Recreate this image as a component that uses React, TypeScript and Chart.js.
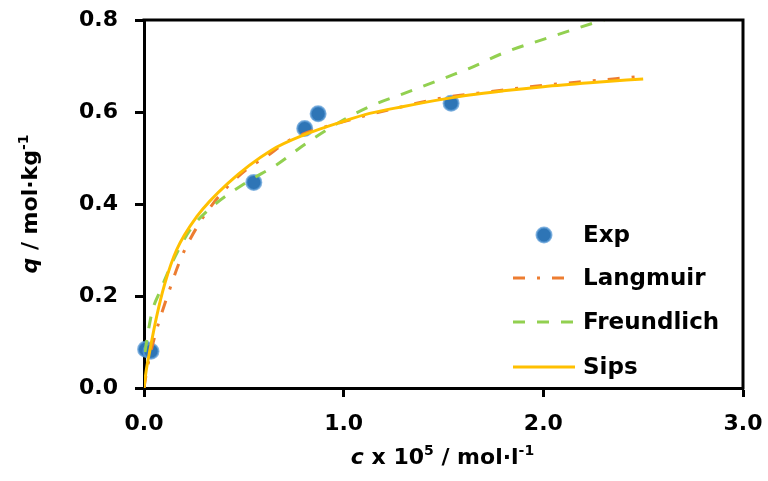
import React, { useEffect, useRef } from "react";
import { Chart, registerables } from "chart.js";

Chart.register(...registerables);

// Experimental isotherm points
const expC = [0.008, 0.035, 0.55, 0.805, 0.872, 1.538];
const expQ = [0.084, 0.08, 0.447, 0.564, 0.596, 0.619];

// Langmuir fit
const langmuirC = [0, 0.017, 0.063, 0.122, 0.188, 0.277, 0.388, 0.522, 0.613, 0.73, 1.0, 1.25, 1.5, 1.75, 2.0, 2.25, 2.5];
const langmuirQ = [0, 0.045, 0.126, 0.206, 0.285, 0.358, 0.423, 0.478, 0.503, 0.539, 0.579, 0.607, 0.631, 0.645, 0.658, 0.668, 0.678];

// Freundlich fit
const freundlichC = [0.005, 0.017, 0.04, 0.08, 0.147, 0.23, 0.322, 0.513, 0.663, 0.813, 1.0, 1.13, 1.3, 1.53, 1.63, 1.81, 2.0, 2.3, 2.5];
const freundlichQ = [0.078, 0.112, 0.165, 0.21, 0.278, 0.343, 0.387, 0.447, 0.485, 0.532, 0.583, 0.612, 0.64, 0.678, 0.695, 0.73, 0.758, 0.8, 0.826];

// Sips fit
const sipsC = [0, 0.01, 0.03, 0.063, 0.105, 0.163, 0.263, 0.42, 0.638, 0.8, 1.0, 1.13, 1.3, 1.5, 1.63, 1.8, 2.0, 2.25, 2.5];
const sipsQ = [0, 0.035, 0.083, 0.155, 0.228, 0.3, 0.372, 0.445, 0.517, 0.55, 0.58, 0.597, 0.612, 0.628, 0.637, 0.646, 0.655, 0.664, 0.672];

// Axis ranges and tick steps
const xRange = [0, 3];
const xStep = 1;
const yRange = [0, 0.8];
const yStep = 0.2;

const seriesNames = ["Exp", "Langmuir", "Freundlich", "Sips"];

const FONT = "'DejaVu Sans', sans-serif";

const pts = (xs: number[], ys: number[]) => xs.map((x, i) => ({ x, y: ys[i] }));

type Part = { text: string; italic?: boolean; sup?: boolean };

function drawRich(ctx: CanvasRenderingContext2D, parts: Part[], x: number, y: number, rotate: boolean, size: number) {
  const fontFor = (p: Part) =>
    `${p.italic ? "italic " : ""}bold ${p.sup ? Math.round(size * 0.62) : size}px ${FONT}`;
  let total = 0;
  const widths: number[] = [];
  for (const p of parts) {
    ctx.font = fontFor(p);
    const w = ctx.measureText(p.text).width;
    widths.push(w);
    total += w;
  }
  ctx.save();
  ctx.translate(x, y);
  if (rotate) ctx.rotate(-Math.PI / 2);
  ctx.textAlign = "left";
  ctx.textBaseline = "alphabetic";
  ctx.fillStyle = "#000";
  let cx = -total / 2;
  parts.forEach((p, i) => {
    ctx.font = fontFor(p);
    ctx.fillText(p.text, cx, p.sup ? -size * 0.4 : 0);
    cx += widths[i];
  });
  ctx.restore();
}

const decorations = {
  id: "decorations",
  afterDraw(chart: any) {
    const { ctx, chartArea: a } = chart;
    ctx.save();
    // closing frame on top and right
    ctx.strokeStyle = "#000";
    ctx.lineWidth = 3;
    ctx.setLineDash([]);
    ctx.beginPath();
    ctx.moveTo(a.left - 1.5, a.top);
    ctx.lineTo(a.right, a.top);
    ctx.lineTo(a.right, a.bottom + 1.5);
    ctx.stroke();

    // axis titles
    drawRich(
      ctx,
      [
        { text: "c", italic: true },
        { text: " x 10" },
        { text: "5", sup: true },
        { text: " / mol·l" },
        { text: "-1", sup: true },
      ],
      (a.left + a.right) / 2 - 1,
      464,
      false,
      22
    );
    drawRich(
      ctx,
      [{ text: "q", italic: true }, { text: " / mol·kg" }, { text: "-1", sup: true }],
      37,
      (a.top + a.bottom) / 2,
      true,
      22
    );

    // legend inside plot area, lower right
    const rowsFromBottom = [153, 110, 66, 21];
    const sx0 = a.right - 230;
    const sx1 = a.right - 168;
    const tx = a.right - 160;
    ctx.textAlign = "left";
    ctx.textBaseline = "middle";
    ctx.font = `bold 23px ${FONT}`;
    [0, 1, 2, 3].forEach((idx, row) => {
      const ds = chart.data.datasets[idx];
      const y = a.bottom - rowsFromBottom[row];
      if (idx === 0) {
        ctx.beginPath();
        ctx.arc((sx0 + sx1) / 2, y, ds.pointRadius, 0, Math.PI * 2);
        ctx.fillStyle = ds.pointBackgroundColor;
        ctx.fill();
        ctx.lineWidth = ds.pointBorderWidth;
        ctx.strokeStyle = ds.pointBorderColor;
        ctx.stroke();
      } else {
        ctx.beginPath();
        ctx.setLineDash(ds.borderDash || []);
        ctx.lineWidth = ds.borderWidth;
        ctx.strokeStyle = ds.borderColor;
        ctx.moveTo(sx0, y);
        ctx.lineTo(sx1, y);
        ctx.stroke();
        ctx.setLineDash([]);
      }
      ctx.fillStyle = "#000";
      ctx.fillText(ds.label, tx, y + 1);
    });
    ctx.restore();
  },
};

export default function App() {
  const ref = useRef<HTMLCanvasElement | null>(null);

  useEffect(() => {
    if (!ref.current) return;
    const tickFont = { family: FONT, size: 22, weight: "bold" as const };
    const axisGrid = {
      display: true,
      drawOnChartArea: false,
      drawTicks: true,
      tickLength: 9,
      tickWidth: 3,
      tickColor: "#000",
    };
    const chart = new Chart(ref.current, {
      type: "scatter",
      data: {
        datasets: [
          {
            label: seriesNames[0],
            data: pts(expC, expQ),
            showLine: false,
            pointRadius: 7.5,
            pointHoverRadius: 7.5,
            pointBackgroundColor: "#2E75B6",
            pointBorderColor: "rgba(91,155,213,0.75)",
            pointBorderWidth: 2,
            clip: false,
            order: 4,
          } as any,
          {
            label: seriesNames[1],
            data: pts(langmuirC, langmuirQ),
            showLine: true,
            pointRadius: 0,
            borderColor: "#ED7D31",
            borderWidth: 3,
            borderDash: [12, 12, 3, 12],
            cubicInterpolationMode: "monotone",
            order: 3,
          },
          {
            label: seriesNames[2],
            data: pts(freundlichC, freundlichQ),
            showLine: true,
            pointRadius: 0,
            borderColor: "#92D050",
            borderWidth: 3,
            borderDash: [12, 12],
            cubicInterpolationMode: "monotone",
            order: 2,
          },
          {
            label: seriesNames[3],
            data: pts(sipsC, sipsQ),
            showLine: true,
            pointRadius: 0,
            borderColor: "#FFC000",
            borderWidth: 3,
            cubicInterpolationMode: "monotone",
            order: 1,
          },
        ],
      },
      options: {
        responsive: false,
        animation: false,
        events: [],
        layout: { padding: { left: 0, top: 20, right: 25, bottom: 0 } },
        plugins: { legend: { display: false }, tooltip: { enabled: false } },
        scales: {
          x: {
            type: "linear",
            min: xRange[0],
            max: xRange[1],
            ticks: {
              stepSize: xStep,
              font: tickFont,
              color: "#000",
              padding: 14,
              callback: (v: any) => Number(v).toFixed(1),
            },
            grid: axisGrid,
            border: { display: true, width: 3, color: "#000" },
            afterFit: (s: any) => {
              s.height = 93;
              s.paddingLeft = 0;
              s.paddingRight = 0;
            },
          },
          y: {
            type: "linear",
            min: yRange[0],
            max: yRange[1],
            ticks: {
              stepSize: yStep,
              font: tickFont,
              color: "#000",
              padding: 17,
              callback: (v: any) => Number(v).toFixed(1),
            },
            grid: axisGrid,
            border: { display: true, width: 3, color: "#000" },
            afterFit: (s: any) => {
              s.width = 144;
              s.paddingTop = 0;
              s.paddingBottom = 0;
            },
          },
        },
      },
      plugins: [decorations],
    });
    return () => chart.destroy();
  }, []);

  return (
    <div style={{ position: "absolute", left: 0, top: 0, width: 768, height: 481, background: "#fff" }}>
      <canvas ref={ref} width={768} height={481} style={{ display: "block" }} />
    </div>
  );
}
